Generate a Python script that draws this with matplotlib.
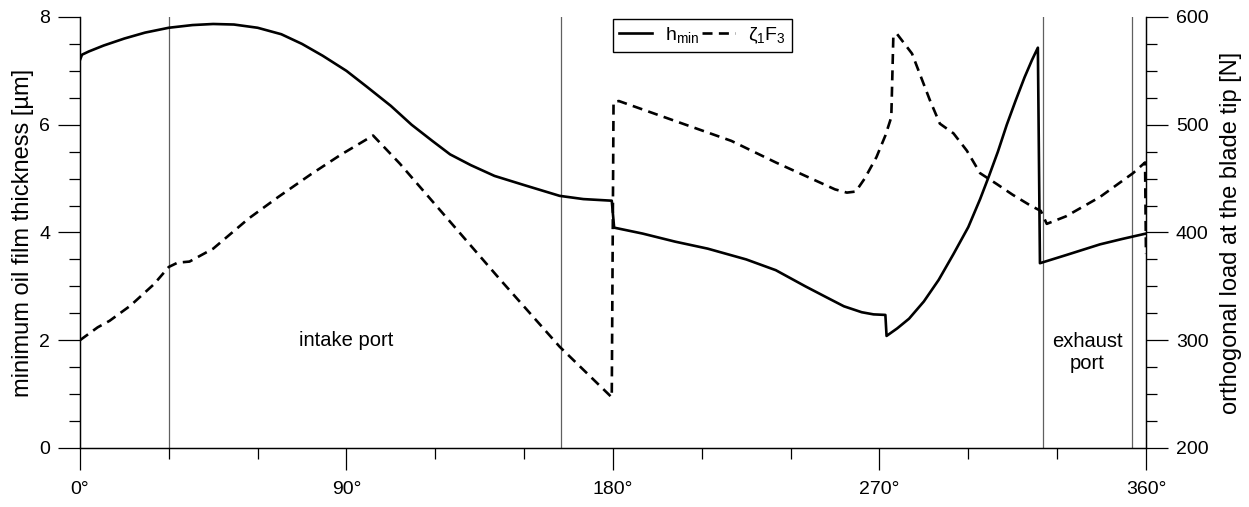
import numpy as np
import matplotlib.pyplot as plt
from matplotlib.ticker import MultipleLocator

plt.rcParams['font.family'] = ['Liberation Sans', 'DejaVu Sans']
plt.rcParams['mathtext.fontset'] = 'custom'
plt.rcParams['mathtext.rm'] = 'Liberation Sans'
plt.rcParams['mathtext.it'] = 'Liberation Sans:italic'

# crank angle [deg] and minimum oil film thickness [um]
ang_h = [0, 0.7, 3, 8, 15, 22, 30, 38, 45, 52, 60, 68, 75, 82, 90, 97, 105, 112,
         119, 125, 132, 140, 150, 162, 170, 179.6, 180.4, 190, 201, 212, 225, 235,
         245, 252, 258, 264, 268, 272, 272.4, 276, 280, 285, 290, 295, 300, 304,
         307, 310, 313, 316, 319, 321.5, 323.5, 324.2, 333, 344.5, 352, 360]
h_min = [7.2, 7.3, 7.36, 7.47, 7.6, 7.71, 7.8, 7.85, 7.87, 7.86, 7.8, 7.68, 7.5,
         7.28, 7.0, 6.7, 6.35, 6.0, 5.7, 5.45, 5.25, 5.05, 4.88, 4.68, 4.62, 4.59,
         4.09, 3.98, 3.83, 3.7, 3.5, 3.3, 3.0, 2.8, 2.63, 2.52, 2.48, 2.47, 2.08,
         2.22, 2.4, 2.72, 3.12, 3.6, 4.1, 4.62, 5.05, 5.5, 6.0, 6.45, 6.88, 7.2,
         7.43, 3.43, 3.58, 3.78, 3.88, 3.98]

# crank angle [deg] and orthogonal load zeta1*F3 [N]
ang_f = [0, 3, 6, 10, 17, 25, 30, 33, 37, 45, 57, 67, 78, 88, 99, 108, 125, 142,
         162, 179.6, 180.2, 182, 201.5, 220, 235, 247, 255, 259, 262, 265, 269,
         272, 274, 274.7, 276, 281, 287, 290.4, 295, 299.5, 304, 309.6, 315, 321,
         324.5, 326.5, 333, 344.5, 355.6, 359.7, 360]
zeta_f = [300, 306, 312, 318, 332, 352, 368, 372, 373, 385, 413, 433, 454, 472,
          490, 464, 410, 356, 294, 247, 521, 522, 503, 485, 465, 450, 440, 437, 438,
          450, 470, 490, 507, 583, 584, 566, 523, 501, 492, 476, 455, 445, 435, 425,
          420, 408, 415, 433, 455, 465, 380]

port_edges = [30, 162.5, 325.3, 355.3]
x_ticks = [0, 90, 180, 270, 360]
x_labels = ['0°', '90°', '180°', '270°', '360°']

fig = plt.figure(figsize=(12.49, 5.07), dpi=100)
ax = fig.add_axes([0.064, 0.1164, 0.8535, 0.8501])
ax2 = ax.twinx()

for xe in port_edges:
    ax.axvline(xe, color='#606060', lw=0.9, zorder=1)

l1, = ax.plot(ang_h, h_min, color='black', lw=1.9, label=r'h$_\mathrm{min}$')
l2, = ax2.plot(ang_f, zeta_f, color='black', lw=1.9, ls=(0, (3.8, 2.4)),
               label=r'ζ$_\mathrm{1}$F$_\mathrm{3}$')

ax.text(90, 2.0, 'intake port', ha='center', va='center', fontsize=14.5)
ax.text(340.3, 1.78, 'exhaust\nport', ha='center', va='center', fontsize=14.5,
        linespacing=1.2)

ax.set_xlim(0, 360)
ax.set_ylim(0, 8)
ax2.set_ylim(200, 600)
ax.set_xticks(x_ticks)
ax.set_xticklabels(x_labels)
ax.xaxis.set_minor_locator(MultipleLocator(30))
ax.yaxis.set_major_locator(MultipleLocator(2))
ax.yaxis.set_minor_locator(MultipleLocator(0.5))
ax2.yaxis.set_major_locator(MultipleLocator(100))
ax2.yaxis.set_minor_locator(MultipleLocator(25))

for a in (ax, ax2):
    a.spines['top'].set_visible(False)
    for s in a.spines.values():
        s.set_linewidth(0.9)
    a.tick_params(which='major', direction='out', length=15.5, width=0.9,
                  labelsize=14, pad=6)
    a.tick_params(which='minor', direction='out', length=8, width=0.9)
ax.tick_params(axis='x', which='major', pad=8)

ax.set_ylabel('minimum oil film thickness [µm]', fontsize=17, labelpad=4)
ax2.set_ylabel('orthogonal load at the blade tip [N]', fontsize=17, labelpad=8)

leg = ax.legend(handles=[l1, l2], loc='upper left', bbox_to_anchor=(0.5, 0.995),
                ncol=2, fontsize=14, frameon=True, fancybox=False,
                edgecolor='black', framealpha=1, handlelength=1.7,
                handletextpad=0.7, columnspacing=0.1, borderpad=0.3,
                borderaxespad=0)
leg.get_frame().set_linewidth(1.0)

fig.savefig('out.png', dpi=100)
